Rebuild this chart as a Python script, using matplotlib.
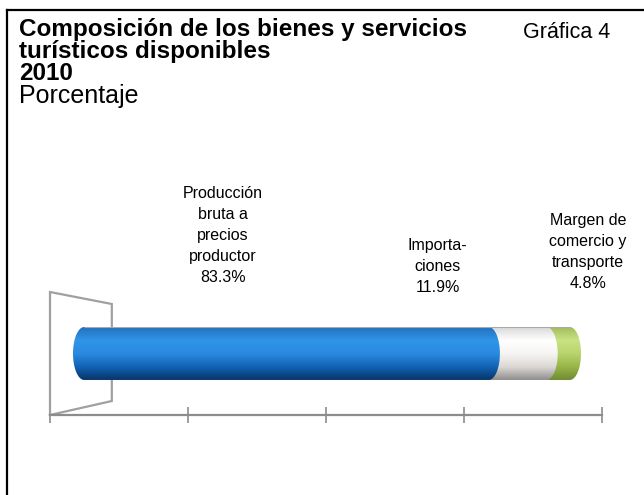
"""Composición de los bienes y servicios turísticos disponibles, 2010 (Gráfica 4)."""
import numpy as np
import matplotlib
matplotlib.use("Agg")
import matplotlib.pyplot as plt
from matplotlib.colors import to_rgba
from matplotlib.patches import Ellipse

plt.rcParams['font.family'] = ['Liberation Sans', 'DejaVu Sans']

# --- data ---------------------------------------------------------
categories = ["Producción\nbruta a\nprecios\nproductor",
              "Importa-\nciones",
              "Margen de\ncomercio y\ntransporte"]
values = [83.3, 11.9, 4.8]
floor_ticks = [0, 25, 50, 75, 100]

# vertical shading of each cylinder segment (top -> bottom)
shades = [
    ["#2470bd", "#2f95e8", "#2a8ae0", "#1263b5", "#073468"],
    ["#d9d9d9", "#ffffff", "#f7f5f3", "#dcd8d4", "#8e8e8e"],
    ["#a3bd5c", "#c9e283", "#b8d46e", "#98b549", "#6f8c32"],
]
label_x = [28.5, 72.8, 103.7]     # label anchors in bar units
label_dy = [0.79, 0.60, 0.68]     # height above the bar top, in bar heights

W, H = 644, 495
fig = plt.figure(figsize=(W / 100, H / 100), dpi=100)


def fx(px):
    return px / W


def fy(py):
    return 1 - py / H


# frame: left and top rules
fig.add_artist(plt.Line2D([fx(7), fx(7)], [fy(10), 0], color="black", lw=1.6))
fig.add_artist(plt.Line2D([fx(7), 1], [fy(10), fy(10)], color="black", lw=1.6))

title_kw = dict(fontsize=17.5, fontweight="bold", va="baseline", ha="left")
fig.text(fx(19), fy(36), "Composición de los bienes y servicios", **title_kw)
fig.text(fx(19), fy(58), "turísticos disponibles", **title_kw)
fig.text(fx(19), fy(80), "2010", **title_kw)
fig.text(fx(19), fy(103), "Porcentaje", fontsize=18, va="baseline", ha="left")
fig.text(fx(523), fy(38), "Gráfica 4", fontsize=15.5, va="baseline", ha="left")

# --- floor and back wall -------------------------------------------
ax_floor = fig.add_axes([fx(50), fy(415), fx(552), (415 - 290) / H])
ax_floor.set_xlim(0, 100)
ax_floor.set_ylim(0, 1)
for s in ["top", "left", "right"]:
    ax_floor.spines[s].set_visible(False)
ax_floor.spines["bottom"].set_color("#8c8c8c")
ax_floor.spines["bottom"].set_linewidth(1.6)
ax_floor.set_xticks(floor_ticks)
ax_floor.set_xticklabels([])
ax_floor.set_yticks([])
ax_floor.tick_params(axis="x", direction="inout", length=11, width=1.2,
                     color="#8c8c8c")
ax_floor.patch.set_alpha(0)
ax_floor.plot([0, 0, 11.2, 11.2, 0], [0, 0.984, 0.888, 0.112, 0],
              color="#a0a0a0", lw=1.6, clip_on=False, solid_joinstyle="miter")

# --- cylinder bar --------------------------------------------------
cap_w = 4.6
ax = fig.add_axes([fx(73), fy(380), fx(581 - 73), 53 / H])
ax.set_xlim(-cap_w / 2, 100 + cap_w / 2)
ax.set_ylim(-0.5, 0.5)
ax.axis("off")

lefts = np.concatenate([[0], np.cumsum(values)[:-1]])
rights = lefts + np.array(values)


def gradient(colors):
    c = np.array([to_rgba(k) for k in colors])
    pos = np.linspace(0, 1, len(colors))
    t = np.linspace(0, 1, 200)
    rgba = np.stack([np.interp(t, pos, c[:, i]) for i in range(4)], axis=1)
    return rgba[:, None, :]


bars = ax.barh(0, values, left=lefts, height=1.0, color="none")
for bar, left, right, sh in zip(bars, lefts, rights, shades):
    im = ax.imshow(gradient(sh), extent=[left, right, -0.5, 0.5],
                   aspect="auto", origin="upper", zorder=1)
    im.set_clip_path(bar)

# end caps: left cap of the first segment, right caps of every segment
caps = [(0, shades[0], 2)] + [(r, sh, 3 + i) for i, (r, sh) in
                               enumerate(zip(rights, shades))][::-1]
for x0, sh, z in caps:
    el = Ellipse((x0, 0), cap_w, 1.0, facecolor="none", edgecolor="none")
    ax.add_patch(el)
    im = ax.imshow(gradient(sh), extent=[x0 - cap_w / 2, x0 + cap_w / 2, -0.5, 0.5],
                   aspect="auto", origin="upper", zorder=z)
    im.set_clip_path(el)

ax.hlines([0.5, -0.5], 0, 100, colors="#a8a8a8", lw=0.8, zorder=10)
ax.set_xlim(-cap_w / 2, 100 + cap_w / 2)
ax.set_ylim(-0.5, 0.5)

for name, v, x, dy in zip(categories, values, label_x, label_dy):
    ax.text(x, 0.5 + dy, f"{name}\n{v:.1f}%", ha="center", va="bottom",
            fontsize=11.5, linespacing=1.5, clip_on=False)

fig.savefig("out.png", dpi=100)
